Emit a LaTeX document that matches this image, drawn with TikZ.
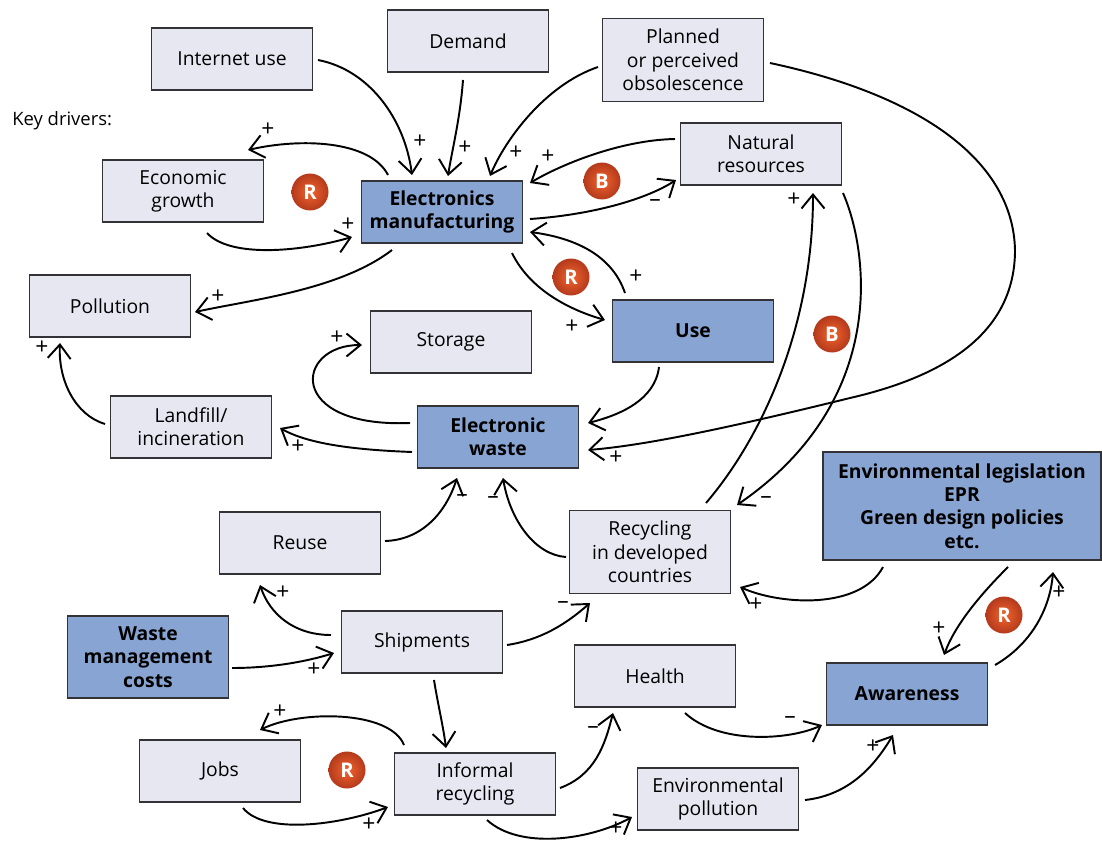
\documentclass[tikz,border=0pt]{standalone}
\usepackage{fontspec}
\setmainfont{Open Sans}
\usetikzlibrary{arrows.meta,calc}
\definecolor{boxfill}{RGB}{230,231,241}
\definecolor{bluefill}{RGB}{135,164,210}
\definecolor{boxline}{RGB}{50,50,55}
\definecolor{loopin}{RGB}{242,100,45}
\definecolor{loopout}{RGB}{180,58,28}
\begin{document}
\begin{tikzpicture}[x=0.02cm,y=-0.02cm,
  base/.style={draw=boxline,line width=1.1pt,align=center,inner sep=2pt,
    font=\fontsize{11}{13.3}\selectfont,minimum width=3.22cm,minimum height=1.24cm},
  lightbox/.style={base,fill=boxfill},
  bluebox/.style={base,fill=bluefill,font=\fontsize{11}{13.3}\selectfont\bfseries},
  loopmark/.style={circle,minimum size=0.74cm,inner sep=0pt,inner color=loopin,
    outer color=loopout,text=white,font=\fontsize{11.5}{12}\selectfont\bfseries},
  link/.style={line width=1.1pt,-{Straight Barb[length=2.8mm,width=4.6mm]}},
  sign/.style={inner sep=0pt,font=\fontsize{13}{13}\selectfont}
]
\useasboundingbox (0,0) rectangle (1102,845);

% boxes
\node[lightbox] (inet) at (232,59) {Internet use};
\node[lightbox] (demand) at (468,41) {Demand};
\node[lightbox,minimum height=1.66cm] (planned) at (683,60) {Planned\\or perceived\\obsolescence};
\node[lightbox] (econ) at (183,191) {Economic\\growth};
\node[bluebox] (em) at (442,212) {Electronics\\manufacturing};
\node[lightbox] (natres) at (761,154) {Natural\\resources};
\node[lightbox] (pollution) at (110,306) {Pollution};
\node[lightbox] (storage) at (451,342) {Storage};
\node[bluebox] (use) at (693,331) {Use};
\node[lightbox] (landfill) at (191,427) {Landfill/\\incineration};
\node[bluebox] (ewaste) at (498,437) {Electronic\\waste};
\node[lightbox] (reuse) at (300,543) {Reuse};
\node[lightbox,minimum height=1.66cm] (recyc) at (650,552) {Recycling\\in developed\\countries};
\node[bluebox,minimum width=5.56cm,minimum height=2.16cm] (envleg) at (962,506)
  {Environmental legislation\\EPR\\Green design policies\\etc.};
\node[bluebox,minimum height=1.64cm] (wmc) at (148,657) {Waste\\management\\costs};
\node[lightbox] (ship) at (422,642) {Shipments};
\node[lightbox] (health) at (655,676) {Health};
\node[bluebox] (aware) at (907,694) {Awareness};
\node[lightbox] (jobs) at (220,771) {Jobs};
\node[lightbox] (informal) at (475,784) {Informal\\recycling};
\node[lightbox] (envpoll) at (718,799) {Environmental\\pollution};

\node[anchor=west,inner sep=0pt,font=\fontsize{10.5}{12}\selectfont] (key) at (12,121) {Key drivers:};

% loop markers
\node[loopmark] (r1) at (310,192) {R};
\node[loopmark] (b1) at (602,181) {B};
\node[loopmark] (r2) at (571,277) {R};
\node[loopmark] (b2) at (832,334) {B};
\node[loopmark] (r3) at (1004,615) {R};
\node[loopmark] (r4) at (347,770) {R};

% connectors
\draw[link] ($(inet)+(86,1)$) .. controls (370,70) and (405,120) .. ($(em)+(-30,-37)$);
\draw[link] ($(demand)+(-5,39)$) .. controls (460,120) and (452,150) .. ($(em)+(6,-36)$);
\draw[link] ($(planned)+(-85,7)$) .. controls (545,85) and (505,140) .. ($(em)+(48,-36)$);
\draw[link] ($(natres)+(-86,-15)$) .. controls (620,140) and (560,165) .. ($(em)+(88,-29)$);
\draw[link] ($(em)+(88,7)$) .. controls (590,215) and (645,200) .. ($(natres)+(-85,26)$);
\draw[link] ($(em)+(-54,-37)$) .. controls (370,140) and (300,138) .. ($(econ)+(65,-41)$);
\draw[link] ($(econ)+(24,42)$) .. controls (230,258) and (300,252) .. ($(em)+(-90,25)$);
\draw[link] ($(em)+(-50,38)$) .. controls (340,290) and (250,300) .. ($(pollution)+(85,6)$);
\draw[link] ($(em)+(70,41)$) .. controls (530,290) and (570,310) .. ($(use)+(-88,-11)$);
\draw[link] ($(use)+(-68,-38)$) .. controls (612,255) and (575,238) .. ($(em)+(88,20)$);
\draw[link] ($(use)+(-34,36)$) .. controls (655,400) and (620,415) .. ($(ewaste)+(90,-14)$);
\coordinate (w1) at (1015,250);
\coordinate (w2) at (850,398);
\draw[link] ($(planned)+(87,3)$) .. controls (920,95) and (1013,160) .. (w1)
  .. controls (1015,330) and (950,375) .. (w2)
  .. controls (740,425) and (650,445) .. ($(ewaste)+(90,13)$);
\draw[link] ($(ewaste)+(-88,-14)$) .. controls (285,428) and (295,345) .. ($(storage)+(-89,3)$);
\draw[link] ($(ewaste)+(-86,15)$) .. controls (360,450) and (310,445) .. ($(landfill)+(89,1)$);
\draw[link] ($(landfill)+(-86,-3)$) .. controls (75,415) and (58,380) .. ($(pollution)+(-50,37)$);
\draw[link] ($(reuse)+(85,-2)$) .. controls (420,540) and (445,515) .. ($(ewaste)+(-41,41)$);
\draw[link] ($(recyc)+(-84,5)$) .. controls (535,555) and (510,520) .. ($(ewaste)+(5,41)$);
\draw[link] ($(recyc)+(56,-49)$) .. controls (760,440) and (813,330) .. ($(natres)+(52,39)$);
\draw[link] ($(natres)+(82,39)$) .. controls (868,250) and (890,400) .. ($(recyc)+(87,-47)$);
\draw[link] ($(envleg)+(-79,61)$) .. controls (860,610) and (780,605) .. ($(recyc)+(90,35)$);
\draw[link] ($(envleg)+(46,61)$) .. controls (980,595) and (955,625) .. ($(aware)+(37,-39)$);
\draw[link] ($(aware)+(88,-29)$) .. controls (1030,645) and (1050,610) .. ($(envleg)+(91,66)$);
\draw[link] ($(wmc)+(84,11)$) .. controls (270,668) and (305,662) .. ($(ship)+(-88,11)$);
\draw[link] ($(ship)+(-91,-7)$) .. controls (295,635) and (270,615) .. ($(reuse)+(-40,42)$);
\draw[link] ($(ship)+(85,3)$) .. controls (540,640) and (565,625) .. ($(recyc)+(-60,51)$);
\draw[link] ($(ship)+(12,38)$) .. controls (438,705) and (443,725) .. ($(informal)+(-29,-36)$);
\draw[link] ($(informal)+(-71,-39)$) .. controls (390,710) and (300,710) .. ($(jobs)+(40,-41)$);
\draw[link] ($(jobs)+(23,37)$) .. controls (265,835) and (340,825) .. ($(informal)+(-87,23)$);
\draw[link] ($(informal)+(85,4)$) .. controls (595,775) and (605,745) .. ($(health)+(-42,37)$);
\draw[link] ($(informal)+(12,36)$) .. controls (520,850) and (590,840) .. ($(envpoll)+(-86,18)$);
\draw[link] ($(health)+(30,37)$) .. controls (720,745) and (790,740) .. ($(aware)+(-85,31)$);
\draw[link] ($(envpoll)+(87,1)$) .. controls (850,795) and (875,765) .. ($(aware)+(-14,41)$);

% signs
\node[sign] (s1) at (420,142) {+};
\node[sign] (s2) at (465,148) {+};
\node[sign] (s3) at (516,153) {+};
\node[sign] (s4) at (548,157) {+};
\node[sign] (s5) at (655,203) {–};
\node[sign] (s6) at (268,130) {+};
\node[sign] (s7) at (348,225) {+};
\node[sign] (s8) at (218,297) {+};
\node[sign] (s9) at (572,327) {+};
\node[sign] (s10) at (636,277) {+};
\node[sign] (s11) at (616,458) {+};
\node[sign] (s12) at (337,338) {+};
\node[sign] (s13) at (298,447) {+};
\node[sign] (s14) at (42,348) {+};
\node[sign] (s15) at (462,498) {–};
\node[sign] (s16) at (493,500) {–};
\node[sign] (s17) at (794,200) {+};
\node[sign] (s18) at (766,500) {–};
\node[sign] (s19) at (756,605) {+};
\node[sign] (s20) at (939,629) {+};
\node[sign] (s21) at (1059,593) {+};
\node[sign] (s22) at (314,670) {+};
\node[sign] (s23) at (283,593) {+};
\node[sign] (s24) at (563,605) {–};
\node[sign] (s25) at (280,712) {+};
\node[sign] (s26) at (369,825) {+};
\node[sign] (s27) at (593,730) {–};
\node[sign] (s28) at (616,829) {+};
\node[sign] (s29) at (790,720) {–};
\node[sign] (s30) at (873,747) {+};
\end{tikzpicture}
\end{document}
